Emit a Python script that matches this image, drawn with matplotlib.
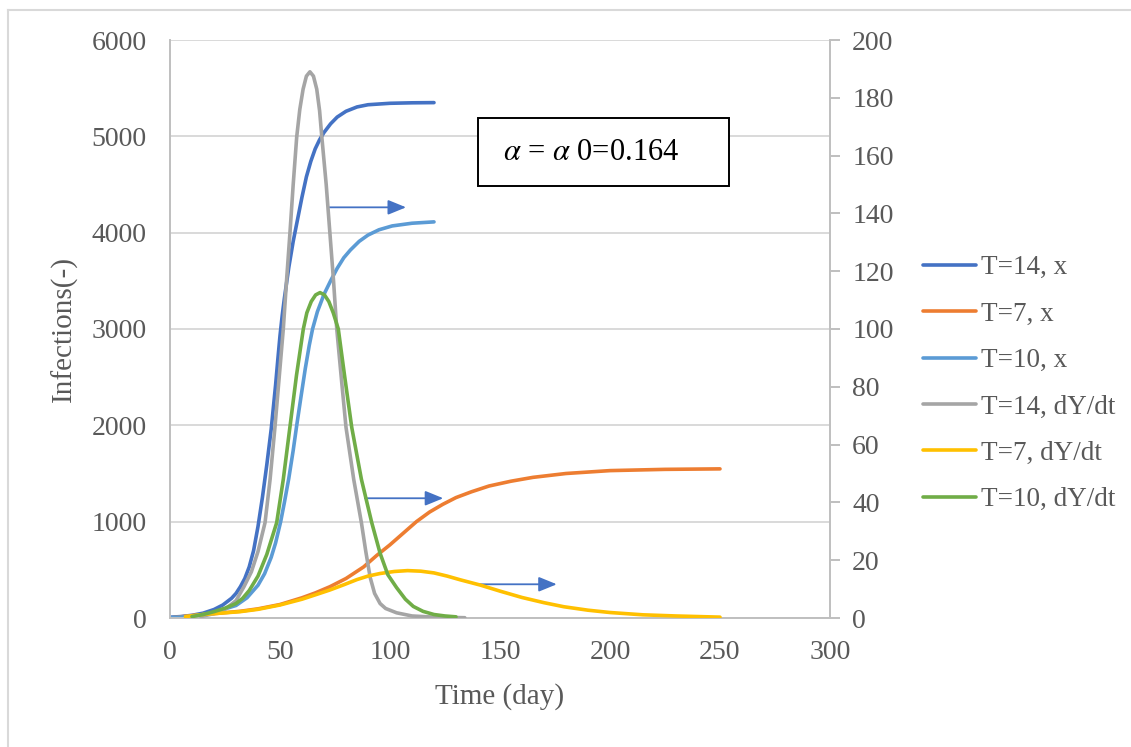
import matplotlib
matplotlib.use("Agg")
import matplotlib.pyplot as plt
from matplotlib.patches import Rectangle
from matplotlib.lines import Line2D

plt.rcParams['font.family'] = ['Liberation Serif', 'DejaVu Serif']
plt.rcParams['mathtext.fontset'] = 'stix'

# T=14, x  (left axis)
t14_days = [0, 5, 10, 15, 20, 24, 28, 30, 32, 34, 36, 38, 40, 42, 44, 46, 48, 49, 50,
            51, 52, 54, 56, 58, 60, 62, 64, 66, 68, 70, 73, 76, 80, 85, 90, 100, 110, 120]
t14_x = [8, 15, 28, 50, 88, 135, 205, 255, 325, 410, 530, 700, 950, 1250, 1590, 1960,
         2420, 2680, 2930, 3140, 3320, 3640, 3910, 4140, 4370, 4580, 4740, 4870, 4965,
         5040, 5130, 5200, 5260, 5305, 5328, 5343, 5348, 5350]

# T=7, x  (left axis)
t7_days = [0, 10, 20, 32, 40, 50, 60, 66, 72.7, 80, 88, 94, 100, 106, 112, 118, 124,
           130, 137, 145, 155, 165, 180, 200, 225, 250]
t7_x = [0, 25, 45, 70, 95, 140, 210, 260, 325, 410, 530, 650, 760, 880, 1000, 1100,
        1180, 1250, 1310, 1370, 1420, 1460, 1500, 1530, 1543, 1548]

# T=10, x  (left axis)
t10_days = [0, 5, 10, 15, 20, 25, 30, 35, 40, 43, 46, 48, 50.3, 52, 54, 56, 57.6, 59.5,
            61.5, 63.3, 64.8, 67, 70, 73, 76, 79, 82, 86, 90, 95, 101, 110, 120]
t10_x = [5, 10, 20, 35, 58, 95, 130, 210, 340, 460, 630, 780, 1000, 1200, 1450, 1740,
         2000, 2290, 2590, 2830, 3000, 3180, 3360, 3500, 3630, 3740, 3820, 3910, 3975,
         4030, 4070, 4098, 4112]

# T=14, dY/dt  (right axis)
d14_days = [14, 20, 25, 30, 33.6, 37, 40, 43.2, 45.5, 47.7, 49.6, 51.5, 53, 54.5, 56,
            57.6, 59, 60.5, 62, 63.6, 65.2, 66.7, 68, 69, 71, 72.7, 74.3, 75.8, 78, 80,
            83.5, 87, 89, 91, 93, 95.5, 98, 103, 110, 120, 134]
d14 = [0.5, 1.5, 3, 6, 10.8, 16, 23, 33, 48, 66, 83, 100, 117, 133, 150, 166.5, 176,
       183, 187.5, 189, 187.5, 183, 175.5, 166.5, 150, 133, 117, 100, 82, 66, 48, 33,
       23, 14, 8.5, 5, 3.3, 1.8, 0.7, 0.3, 0.1]

# T=7, dY/dt  (right axis)
d7_days = [7, 15, 25, 32, 40, 50, 60, 66, 72.7, 79, 85, 90, 95.5, 102, 108, 114, 120,
           126, 132, 141, 150, 160, 170, 179, 190, 200, 215, 230, 250]
d7 = [0.5, 1.2, 1.8, 2.2, 3, 4.5, 6.5, 8, 9.7, 11.5, 13.3, 14.5, 15.4, 16.1, 16.4,
      16.2, 15.6, 14.5, 13.2, 11.4, 9.3, 7.1, 5.3, 3.9, 2.7, 1.9, 1.1, 0.7, 0.3]

# T=10, dY/dt  (right axis)
d10_days = [10, 15, 20, 25, 30, 33, 36, 40, 44, 48.5, 51.5, 54.5, 57.5, 60.6, 62.2,
            64.2, 66.2, 68.2, 70.2, 72.2, 74.2, 76.5, 79.5, 82.6, 87, 91.7, 95.5, 99,
            103, 107, 110.6, 115, 120, 125, 130]
d10 = [0.5, 1.2, 2.2, 3.4, 5, 6.8, 9.5, 14.5, 22, 33, 48, 66, 84, 100, 105.6, 109.5,
       111.8, 112.6, 111.8, 109.5, 105.6, 100, 83, 66, 48, 33, 22.4, 15, 10.5, 6.5, 4,
       2.3, 1.2, 0.7, 0.4]

labels = ["T=14, x", "T=7, x", "T=10, x", "T=14, dY/dt", "T=7, dY/dt", "T=10, dY/dt"]
colors = ["#4472C4", "#ED7D31", "#5B9BD5", "#A5A5A5", "#FFC000", "#70AD47"]

txt = "#595959"
gridc = "#D9D9D9"
axc = "#BFBFBF"
fs = 19.5

fig = plt.figure(figsize=(11.31, 7.47), dpi=100)
ax = fig.add_axes([170 / 1131, 1 - 618 / 747, 660 / 1131, 578 / 747])
ax2 = ax.twinx()

lw = 2.6
kw = dict(lw=lw, solid_capstyle='round', solid_joinstyle='round')
h = []
h += ax.plot(t14_days, t14_x, color=colors[0], **kw)
h += ax.plot(t7_days, t7_x, color=colors[1], **kw)
h += ax.plot(t10_days, t10_x, color=colors[2], **kw)
h += ax2.plot(d14_days, d14, color=colors[3], **kw)
h += ax2.plot(d7_days, d7, color=colors[4], **kw)
h += ax2.plot(d10_days, d10, color=colors[5], **kw)

ax.set_xlim(0, 300)
ax.set_ylim(0, 6000)
ax2.set_ylim(0, 200)
ax.set_xticks(range(0, 301, 50))
ax.set_yticks(range(0, 6001, 1000))
ax2.set_yticks(range(0, 201, 20))

ax.yaxis.grid(True, color=gridc, lw=1.4)
ax.set_axisbelow(True)
ax.spines['top'].set_visible(False)
ax2.spines['top'].set_visible(False)
ax.spines['left'].set_color(axc)
ax.spines['bottom'].set_color(axc)
ax.spines['left'].set_linewidth(1.4)
ax.spines['bottom'].set_linewidth(1.4)
ax2.spines['right'].set_color(axc)
ax2.spines['right'].set_linewidth(1.4)
ax2.spines['left'].set_visible(False)
ax2.spines['bottom'].set_visible(False)
ax.spines['right'].set_visible(False)

ax.tick_params(axis='y', length=0, pad=17, labelsize=fs + 0.5, labelcolor=txt)
ax.tick_params(axis='x', length=0, pad=16, labelsize=fs + 0.5, labelcolor=txt)
ax2.tick_params(axis='y', length=7, width=1.4, color=axc, pad=9, labelsize=fs + 0.5,
                labelcolor=txt)

ax.set_xlabel("Time (day)", fontsize=21, color=txt)
ax.set_ylabel("Infections(-)", fontsize=21, color=txt)
ax.xaxis.set_label_coords(0.5, -0.112)
ax.yaxis.set_label_coords(-0.14, 0.5)

# arrows pointing to the right axis
arrow_rows = [(72.0, 107.3, 4263), (88.6, 124.2, 1243), (140.9, 175.8, 350)]
for x0, x1, yv in arrow_rows:
    ax.annotate("", xy=(x1, yv), xytext=(x0, yv),
                arrowprops=dict(arrowstyle="-|>,head_length=1.1,head_width=0.45",
                                color="#4472C4", lw=1.3, shrinkA=0, shrinkB=0),
                zorder=5)

# parameter box
ax2.add_patch(Rectangle((0.4667, 0.7474), 0.3803, 0.1176, transform=ax2.transAxes,
                        facecolor="white", edgecolor="black", lw=1.4, zorder=6))
ax2.text(0.5045, 0.806, r"$\alpha$ = $\alpha$ 0=0.164", transform=ax2.transAxes,
         fontsize=22, color="black", va="center", ha="left", zorder=7)

fig.legend(h, labels, loc="upper left", bbox_to_anchor=(899 / 1131, 1 - 231 / 747),
           frameon=False, fontsize=fs, labelcolor=txt, handlelength=1.96,
           labelspacing=0.79, handletextpad=0.18)

# outer chart frame
fig.add_artist(Line2D([8 / 1131, 8 / 1131], [0, 1 - 10 / 747], color=gridc, lw=1.5))
fig.add_artist(Line2D([8 / 1131, 1], [1 - 10 / 747, 1 - 10 / 747], color=gridc, lw=1.5))

fig.savefig("out.png", dpi=100)
